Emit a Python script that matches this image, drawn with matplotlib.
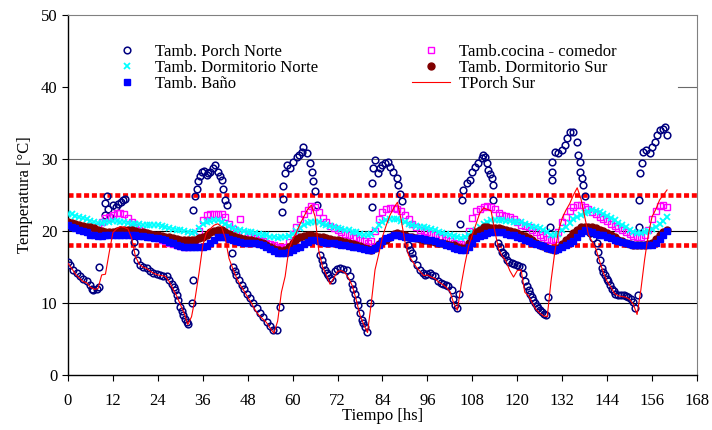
import numpy as np
import matplotlib
matplotlib.use('Agg')
import matplotlib.pyplot as plt

plt.rcParams['font.family'] = ['Liberation Serif', 'DejaVu Serif']

# Tamb. Porch Norte: pares (hora, temperatura)
pn_t = [0.1, 0.5, 1.4, 2.3, 3.2, 4.1, 5.0, 5.9, 6.3, 6.8, 7.7, 8.4, 8.4,
        9.9, 9.9, 10.3, 10.6, 11.2, 12.1, 12.8, 13.4, 14.1, 14.8, 15.2, 16.8,
        17.6, 17.9, 18.3, 19.2, 20.1, 21.0, 21.9, 22.8, 23.7, 24.6, 25.5, 26.4,
        27.1, 27.7, 28.2, 28.6, 29.1, 29.5, 30.0, 30.4, 30.8, 31.3, 31.7, 32.1,
        33.0, 33.5, 33.5, 34.0, 34.4, 34.8, 35.2, 35.7, 36.3, 37.0, 37.5, 37.9,
        38.6, 39.3, 40.1, 40.6, 41.0, 41.5, 41.9, 42.4, 43.7, 44.2, 44.6, 45.0,
        45.7, 46.4, 47.0, 47.7, 48.6, 49.5, 50.4, 51.3, 52.2, 53.1, 54.0, 54.8,
        55.7, 56.6, 57.1, 57.5, 57.5, 58.0, 58.4, 59.3, 60.2, 61.1, 61.8, 62.4,
        62.8, 63.8, 64.6, 65.1, 65.5, 66.0, 66.4, 67.3, 67.8, 68.2, 68.6, 69.1,
        69.5, 70.0, 70.4, 71.3, 71.9, 72.6, 73.5, 74.4, 75.3, 75.8, 76.2, 76.7,
        77.1, 77.5, 78.0, 78.4, 78.9, 79.3, 79.8, 80.7, 81.1, 81.1, 81.5, 82.0,
        82.9, 83.3, 83.8, 84.7, 85.6, 86.0, 86.9, 87.8, 88.2, 88.7, 89.1, 90.9,
        91.3, 91.8, 92.2, 93.1, 94.0, 94.7, 95.4, 96.0, 96.7, 97.3, 98.0, 98.9,
        99.5, 100.2, 100.9, 101.6, 102.5, 102.9, 103.4, 103.8, 104.3, 104.7,
        105.2, 105.6, 106.5, 107.4, 107.8, 108.7, 109.6, 110.5, 110.9, 111.4,
        111.8, 112.3, 112.7, 113.2, 113.6, 113.6, 114.9, 115.4, 115.8, 116.3,
        116.7, 117.2, 117.8, 118.5, 119.2, 119.8, 120.5, 121.2, 121.6, 122.1,
        122.5, 123.0, 123.4, 123.8, 124.3, 124.7, 125.2, 125.6, 126.1, 126.5,
        127.2, 127.8, 128.3, 128.7, 128.7, 129.2, 129.2, 129.4, 130.1, 131.0,
        131.9, 132.7, 133.2, 134.1, 135.0, 135.9, 136.3, 136.8, 136.8, 137.2,
        137.6, 138.1, 139.4, 140.3, 141.2, 141.6, 142.1, 142.6, 143.0, 143.4,
        143.9, 144.3, 144.8, 145.2, 145.7, 146.1, 147.0, 147.7, 148.4, 149.0,
        149.7, 150.4, 151.0, 151.4, 152.3, 152.6, 152.6, 152.9, 153.2, 153.6,
        154.5, 155.4, 155.9, 156.8, 157.2, 158.1, 159.0, 159.5, 159.9]
pn_T = [15.7, 15.3, 14.6, 14.1, 13.7, 13.4, 13.0, 12.5, 12.0, 11.8, 12.0, 12.2, 15.0,
        22.2, 23.9, 24.8, 23.0, 22.0, 23.6, 23.4, 23.8, 24.0, 24.3, 24.4, 20.0,
        18.5, 17.1, 16.0, 15.3, 15.0, 14.8, 14.4, 14.1, 14.0, 13.9, 13.8, 13.7,
        13.2, 12.7, 12.2, 11.8, 11.1, 10.4, 9.5, 8.9, 8.3, 7.8, 7.4, 7.1,
        10.0, 13.2, 22.9, 24.8, 25.9, 26.9, 27.6, 28.2, 28.4, 27.8, 28.0, 28.2,
        28.7, 29.2, 28.2, 27.6, 27.1, 25.9, 24.3, 23.6, 16.9, 15.0, 14.4, 13.9,
        13.2, 12.5, 11.9, 11.3, 10.7, 10.0, 9.3, 8.6, 8.0, 7.4, 6.8, 6.25,
        6.25, 9.5, 22.7, 24.5, 26.2, 28.0, 29.2, 28.7, 29.6, 30.3, 30.6, 31.0,
        31.7, 30.8, 29.4, 28.2, 26.9, 25.5, 23.6, 16.7, 16.0, 15.3, 14.6, 14.2,
        13.9, 13.5, 13.2, 14.4, 14.7, 14.8, 14.7, 14.6, 13.7, 12.7, 12.0, 11.3,
        10.4, 9.7, 8.6, 7.6, 7.2, 6.7, 6.0, 10.0, 23.4, 26.6, 28.7, 29.9,
        28.0, 28.7, 29.2, 29.4, 29.6, 28.9, 28.2, 27.3, 26.4, 25.2, 24.1, 18.1,
        17.4, 16.9, 16.2, 15.3, 14.6, 14.2, 13.9, 14.0, 14.1, 13.9, 13.7, 13.0,
        12.8, 12.7, 12.5, 12.3, 11.8, 10.6, 9.7, 9.3, 11.3, 21.0,
        24.3, 25.7, 26.6, 27.1, 28.2, 28.9, 29.4, 30.1, 30.6, 30.3,
        29.4, 28.5, 27.9, 27.3, 26.4, 24.3, 18.3, 17.8, 17.1, 16.9,
        16.7, 16.0, 15.7, 15.5, 15.4, 15.3, 15.2, 15.0, 14.0, 13.0,
        12.4, 11.8, 11.3, 10.9, 10.4, 10.0, 9.6, 9.3, 9.0, 8.8,
        8.5, 8.3, 10.9, 20.6, 24.1, 27.1, 28.2, 29.6, 31.0, 30.8,
        31.25, 31.9, 32.9, 33.8, 33.8, 32.4, 30.6, 29.6, 28.2, 27.3,
        26.4, 24.8, 19.7, 19.0, 18.3, 17.1, 16.0, 14.8, 14.3, 13.9,
        13.4, 13.0, 12.5, 12.0, 11.6, 11.3, 11.1, 11.1, 11.1, 11.0,
        10.9, 10.6, 10.2, 9.3, 11.1, 20.6, 24.3, 28.1, 29.4, 31.0,
        31.25, 30.8, 31.7, 32.4, 33.3, 34.0, 34.2, 34.5, 33.3]

# series horarias (0 a 160 hs)
horas = list(range(161))

cocina = [21.0, 20.9, 20.7, 20.6, 20.4, 20.2, 20.0, 20.1, 20.6, 21.3,
          21.8, 22.0, 22.2, 22.5, 22.5, 22.3, 21.8, 21.2, 20.6, 20.2,
          19.9, 19.6, 19.4, 19.2, 19.0, 18.8, 18.6, 18.4, 18.2, 18.0,
          17.9, 17.8, 17.8, 17.9, 18.6, 20.0, 21.5, 22.2, 22.3, 22.3,
          22.4, 22.4, 21.9, 21.0, 20.3, 19.9, 21.7, 19.6, 19.4, 19.2,
          19.0, 18.8, 18.6, 18.4, 18.2, 18.0, 17.8, 17.7, 17.8, 18.5,
          19.6, 20.5, 21.6, 22.3, 22.9, 23.5, 23.3, 22.6, 21.8, 21.2,
          20.7, 20.4, 20.1, 19.8, 19.6, 19.4, 19.2, 19.0, 18.8, 18.6,
          18.4, 18.6, 20.0, 21.6, 22.6, 23.1, 23.2, 23.2, 23.1, 22.8,
          22.2, 21.6, 21.0, 20.5, 20.2, 20.0, 19.8, 19.6, 19.4, 19.2,
          19.0, 18.8, 18.6, 18.4, 18.2, 18.2, 18.6, 20.0, 21.8, 22.8,
          23.0, 23.4, 23.5, 23.4, 23.0, 22.5, 22.2, 22.1, 22.0, 21.6,
          21.2, 20.9, 20.7, 20.6, 20.2, 19.8, 19.5, 19.1, 18.9, 18.7,
          18.9, 19.8, 21.2, 22.0, 22.8, 23.4, 23.6, 23.6, 23.3, 23.0,
          22.7, 22.4, 22.0, 21.7, 21.4, 21.0, 20.7, 20.4, 20.2, 19.9,
          19.6, 19.3, 19.2, 19.2, 19.4, 20.2, 21.6, 22.8, 23.5, 23.6,
          23.4]

dorm_norte = [22.4, 22.3, 22.1, 22.0, 21.8, 21.6, 21.4, 21.2, 21.1, 21.1,
              21.2, 21.3, 21.4, 21.4, 21.3, 21.2, 21.1, 21.0, 21.0, 21.0,
              20.9, 20.9, 20.8, 20.8, 20.8, 20.7, 20.5, 20.4, 20.3, 20.2,
              20.1, 20.0, 19.8, 19.7, 19.9, 20.4, 21.0, 21.3, 21.4, 21.5,
              21.5, 21.3, 21.0, 20.7, 20.4, 20.2, 20.1, 20.0, 19.9, 19.8,
              19.7, 19.6, 19.5, 19.4, 19.2, 19.1, 19.0, 19.1, 19.2, 19.3,
              19.6, 20.0, 20.4, 20.8, 21.1, 21.3, 21.3, 21.2, 21.0, 20.9,
              20.7, 20.5, 20.4, 20.3, 20.2, 20.1, 19.9, 19.8, 19.6, 19.5,
              19.4, 19.6, 20.2, 20.8, 21.2, 21.5, 21.7, 21.7, 21.6, 21.4,
              21.2, 21.0, 20.9, 20.7, 20.6, 20.5, 20.4, 20.3, 20.1, 19.9,
              19.7, 19.6, 19.4, 19.3, 19.1, 19.0, 19.1, 19.4, 19.8, 20.1,
              20.6, 21.0, 21.3, 21.5, 21.5, 21.5, 21.5, 21.4, 21.4, 21.3,
              21.3, 21.2, 21.0, 20.8, 20.6, 20.5, 20.4, 20.1, 19.8, 19.5,
              19.4, 19.6, 20.1, 20.6, 21.1, 21.6, 21.9, 22.2, 22.5, 22.7,
              22.9, 22.8, 22.6, 22.4, 22.1, 21.8, 21.5, 21.1, 20.8, 20.5,
              20.1, 19.8, 19.7, 19.7, 19.8, 20.0, 20.3, 20.6, 21.0, 21.4,
              22.0]

dorm_sur = [21.2, 21.1, 21.0, 20.8, 20.7, 20.6, 20.5, 20.4, 20.2, 20.0,
            19.9, 19.9, 19.9, 20.0, 20.1, 20.2, 20.2, 20.1, 20.0, 19.9,
            19.8, 19.7, 19.6, 19.5, 19.4, 19.3, 19.2, 19.1, 19.0, 18.9,
            18.8, 18.8, 18.7, 18.7, 18.8, 19.0, 19.2, 19.5, 19.8, 20.0,
            20.1, 20.1, 19.9, 19.6, 19.3, 19.1, 19.0, 18.9, 18.8, 18.7,
            18.6, 18.5, 18.3, 18.1, 17.8, 17.5, 17.3, 17.2, 17.4, 17.8,
            18.4, 18.9, 19.2, 19.3, 19.4, 19.4, 19.3, 19.2, 19.1, 19.0,
            18.9, 18.8, 18.7, 18.6, 18.5, 18.3, 18.2, 18.1, 17.9, 17.7,
            17.5, 17.4, 17.7, 18.2, 18.6, 18.8, 19.2, 19.6, 19.7, 19.6,
            19.4, 19.2, 19.1, 19.0, 18.9, 18.8, 18.7, 18.6, 18.5, 18.4,
            18.3, 18.2, 18.1, 18.0, 17.8, 17.6, 17.7, 18.3, 19.2, 19.8,
            20.1, 20.5, 20.5, 20.4, 20.4, 20.4, 20.3, 20.2, 20.0, 19.9,
            19.7, 19.5, 19.3, 19.0, 18.7, 18.4, 18.1, 17.9, 17.7, 17.5,
            17.4, 17.6, 18.2, 18.8, 19.2, 19.7, 20.2, 20.5, 20.6, 20.6,
            20.5, 20.4, 20.2, 20.0, 19.7, 19.4, 19.1, 18.8, 18.6, 18.4,
            18.2, 18.1, 18.0, 18.0, 18.1, 18.2, 18.4, 18.9, 19.4, 19.8,
            20.1]

bano = [20.8, 20.6, 20.4, 20.2, 20.0, 19.8, 19.5, 19.4, 19.3, 19.3,
        19.4, 19.4, 19.4, 19.5, 19.5, 19.5, 19.4, 19.4, 19.4, 19.3,
        19.3, 19.2, 19.1, 19.0, 19.0, 18.9, 18.7, 18.5, 18.3, 18.1,
        17.9, 17.8, 17.8, 17.8, 17.8, 17.8, 17.8, 17.9, 18.3, 18.8,
        19.1, 19.2, 19.1, 18.9, 18.7, 18.6, 18.5, 18.4, 18.4, 18.3,
        18.3, 18.2, 18.0, 17.8, 17.5, 17.2, 17.0, 16.9, 16.9, 17.1,
        17.4, 17.6, 17.8, 18.2, 18.5, 18.7, 18.7, 18.6, 18.5, 18.4,
        18.3, 18.3, 18.2, 18.1, 18.0, 17.9, 17.8, 17.8, 17.7, 17.5,
        17.4, 17.4, 17.6, 18.1, 18.6, 19.0, 19.2, 19.4, 19.4, 19.3,
        19.2, 19.1, 19.0, 19.0, 19.0, 18.9, 18.8, 18.7, 18.6, 18.4,
        18.3, 18.1, 17.9, 17.7, 17.5, 17.4, 17.4, 17.8, 18.4, 19.0,
        19.3, 19.5, 19.7, 19.8, 19.9, 19.9, 19.8, 19.6, 19.5, 19.4,
        19.2, 19.0, 18.8, 18.6, 18.4, 18.2, 18.1, 17.9, 17.7, 17.5,
        17.4, 17.5, 17.8, 18.1, 18.4, 18.6, 19.2, 19.7, 20.1, 20.0,
        19.8, 19.6, 19.5, 19.4, 19.2, 19.0, 18.8, 18.6, 18.5, 18.3,
        18.2, 18.1, 18.1, 18.1, 18.1, 18.1, 18.1, 18.4, 18.9, 19.5,
        20.0]

porch_sur = [15.5, 14.8, 14.0, 13.5, 13.0, 12.8, 12.2, 11.9, 12.0, 13.9,
             14.0, 17.0, 19.8, 20.3, 20.6, 20.5, 20.3, 19.0, 16.5, 15.4,
             15.0, 14.8, 14.4, 14.1, 13.9, 13.8, 13.7, 13.0, 12.0, 11.0,
             9.8, 8.6, 7.0, 8.1, 10.8, 14.2, 18.0, 19.8, 20.3, 20.8,
             21.0, 20.6, 19.0, 16.2, 14.8, 13.5, 12.5, 11.7, 10.8, 10.0,
             9.0, 8.3, 7.8, 7.3, 6.5, 5.8, 7.5, 11.5, 13.7, 17.5,
             18.8, 19.8, 21.0, 22.0, 23.0, 23.6, 22.0, 17.2, 15.0, 13.9,
             12.6, 13.5, 14.4, 14.5, 14.2, 13.4, 12.3, 10.4, 8.3, 7.0,
             5.9, 10.0, 14.6, 16.8, 19.2, 20.8, 22.2, 23.2, 24.0, 21.5,
             18.5, 16.6, 15.8, 15.0, 14.4, 13.8, 13.9, 13.6, 13.4, 12.9,
             12.6, 12.2, 11.6, 10.0, 9.0, 12.5, 15.4, 17.9, 19.5, 21.0,
             22.5, 23.2, 23.0, 22.8, 20.0, 17.5, 16.5, 15.8, 14.5, 13.6,
             14.5, 14.6, 11.5, 11.0, 10.0, 9.1, 8.6, 8.2, 8.1, 13.0,
             17.0, 20.0, 21.8, 22.9, 23.8, 25.0, 26.0, 24.5, 22.0, 19.5,
             18.5, 17.5, 15.8, 14.2, 13.0, 12.2, 11.3, 11.0, 10.9, 10.8,
             10.5, 9.8, 8.4, 11.8, 16.0, 19.5, 22.0, 23.0, 24.3, 25.0,
             25.7]

limites = [25, 18]

fig = plt.figure(figsize=(7.12, 4.30), dpi=100)
ax = fig.add_axes([68 / 712, 55 / 430, 629 / 712, 360 / 430])

for y in [10, 20]:
    ax.axhline(y, color='black', lw=0.8, zorder=1)
ax.axhline(30, color='#6a6a6a', lw=0.8, zorder=1)
ax.axhline(40, xmin=0.97, xmax=1.0, color='#6a6a6a', lw=0.8, zorder=1)

for y in limites:
    ax.axhline(y, color='#ff0000', lw=3.3, linestyle=(0, (1.1, 0.6)), zorder=2)

h1, = ax.plot(pn_t, pn_T, ls='none', marker='o', ms=4.8, mfc='none', mec='#000080', mew=1.1,
              label='Tamb. Porch Norte', zorder=3)
h2, = ax.plot(horas, cocina, ls='none', marker='s', ms=4.6, mfc='none', mec='#ff00ff', mew=1.0,
              label='Tamb.cocina - comedor', zorder=4)
h3, = ax.plot(horas, dorm_norte, ls='none', marker='x', ms=4.8, color='#00ffff', mew=1.3,
              label='Tamb. Dormitorio Norte', zorder=5)
h4, = ax.plot(horas, dorm_sur, ls='none', marker='o', ms=5.0, color='#800000',
              label='Tamb. Dormitorio Sur', zorder=6)
h5, = ax.plot(horas, bano, ls='none', marker='s', ms=4.0, color='#0000ff',
              label='Tamb. Baño', zorder=7)
h6, = ax.plot(horas, porch_sur, color='#ff0000', lw=0.8, label='TPorch Sur', zorder=8)

ax.set_xlim(0, 168)
ax.set_ylim(0, 50)
ax.set_xticks(range(0, 169, 12))
ax.set_yticks(range(0, 51, 10))
ax.tick_params(axis='both', direction='out', length=4, width=0.8, labelsize=12, colors='black')
ax.tick_params(axis='x', pad=9)
ax.spines['top'].set_color('#808080')
ax.spines['right'].set_color('#808080')
for s in ['left', 'bottom']:
    ax.spines[s].set_linewidth(1.0)

ax.set_xlabel('Tiempo [hs]', fontsize=12, labelpad=-1)
ax.set_ylabel('Temperatura [°C]', fontsize=12, labelpad=6)

leg_kw = dict(frameon=False, fontsize=12, labelspacing=0.0, handlelength=2.3,
              handletextpad=0.5, borderpad=0, borderaxespad=0, loc='upper left',
              bbox_transform=fig.transFigure)
leg1 = ax.legend(handles=[h1, h3, h5], bbox_to_anchor=(108 / 712, 1 - 44 / 430), **leg_kw)
ax.add_artist(leg1)
ax.legend(handles=[h2, h4, h6], bbox_to_anchor=(412 / 712, 1 - 44 / 430), **leg_kw)

fig.savefig('out.png', dpi=100)
